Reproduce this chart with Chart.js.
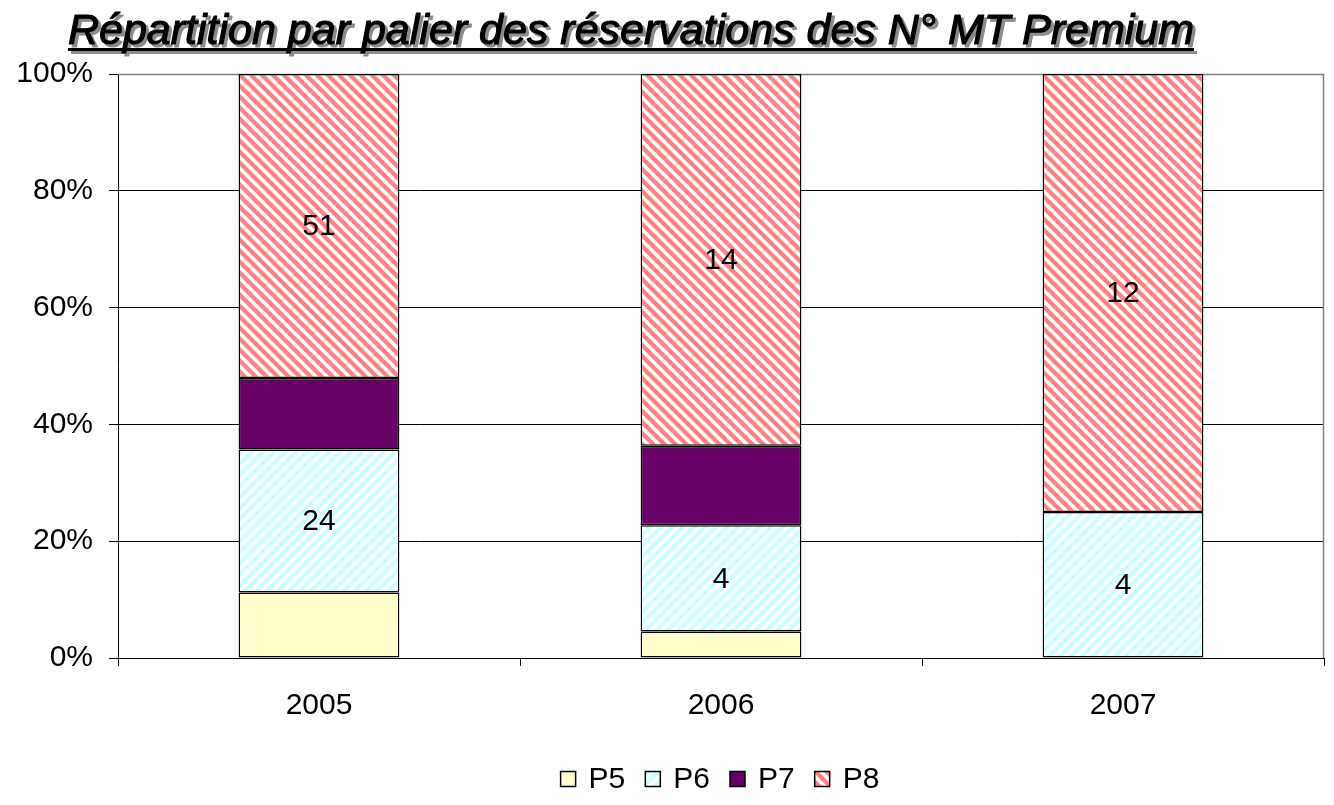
<!DOCTYPE html>
<html>
<head>
<meta charset="utf-8">
<script src="https://cdn.jsdelivr.net/npm/chart.js@4"></script>
<style>
  html, body { margin: 0; padding: 0; background: #fff; }
  #wrap { width: 1334px; height: 805px; position: relative; }
</style>
</head>
<body>
<div id="wrap"><canvas id="paliers"></canvas></div>
<script>
// données (nombre de réservations)
const years = ['2005', '2006', '2007'];
const p5 = [11, 1, 0];
const p6 = [24, 4, 4];
const p7 = [12, 3, 0];
const p8 = [51, 14, 12];
const seriesNames = ['P5', 'P6', 'P7', 'P8'];
const labelledSeries = ['P6', 'P8'];
const yTicks = [0, 20, 40, 60, 80, 100];
const titleText = 'Répartition par palier des réservations des N° MT Premium';

const FONT = '"Liberation Sans", Arial, sans-serif';

// motifs hachurés
function stripes(color, dir) {
    const s = 11;
    const c = document.createElement('canvas');
    c.width = s; c.height = s;
    const g = c.getContext('2d');
    g.fillStyle = '#fff';
    g.fillRect(0, 0, s, s);
    g.strokeStyle = color;
    g.lineWidth = 4.2;
    for (let k = -s; k <= s; k += s) {
        g.beginPath();
        if (dir === 'down') { g.moveTo(k - 2, -2); g.lineTo(k + s + 2, s + 2); }
        else { g.moveTo(k - 2, s + 2); g.lineTo(k + s + 2, -2); }
        g.stroke();
    }
    return g.createPattern(c, 'repeat');
}

const ctx0 = document.getElementById('paliers').getContext('2d');
const fills = ['#FFFFCC', stripes('#CCFFFF', 'up'), '#660066', stripes('#FF8080', 'down')];
const counts = [p5, p6, p7, p8];
const totals = years.map((_, i) => counts.reduce((s, arr) => s + arr[i], 0));
const pct = arr => arr.map((v, i) => v ? v / totals[i] * 100 : null);

const titlePlugin = {
    id: 'titreOmbre',
    afterDraw(chart) {
        const c = chart.ctx;
        c.save();
        c.font = 'italic 43px ' + FONT;
        c.textAlign = 'left';
        c.textBaseline = 'alphabetic';
        c.lineJoin = 'round';
        const w = c.measureText(titleText).width;
        const x0 = 631 - w / 2, base = 44;
        // ombre grise
        c.fillStyle = '#8c8c8c';
        c.strokeStyle = '#8c8c8c';
        c.lineWidth = 1.2;
        c.fillText(titleText, x0 + 3, base + 3);
        c.strokeText(titleText, x0 + 3, base + 3);
        c.fillRect(x0 + 3, base + 7, w, 3);
        c.fillStyle = '#000';
        c.strokeStyle = '#000';
        c.fillText(titleText, x0, base);
        c.strokeText(titleText, x0, base);
        c.fillRect(x0, base + 4, w, 3);
        c.restore();
    }
};

const framePlugin = {
    id: 'cadre',
    beforeDatasetsDraw(chart) {
        const a = chart.chartArea, c = chart.ctx;
        c.save();
        c.strokeStyle = '#808080';
        c.lineWidth = 1.5;
        c.beginPath();
        c.moveTo(a.left, a.top + 0.5);
        c.lineTo(a.right - 0.5, a.top + 0.5);
        c.lineTo(a.right - 0.5, a.bottom);
        c.stroke();
        c.restore();
    }
};

const valuesPlugin = {
    id: 'valeurs',
    afterDatasetsDraw(chart) {
        const c = chart.ctx;
        c.save();
        c.font = '30px ' + FONT;
        c.fillStyle = '#000';
        c.textAlign = 'center';
        c.textBaseline = 'middle';
        chart.data.datasets.forEach((ds, di) => {
            if (!labelledSeries.includes(ds.label)) return;
            chart.getDatasetMeta(di).data.forEach((bar, i) => {
                const v = counts[di][i];
                if (!v) return;
                const p = bar.getProps(['x', 'y', 'base'], true);
                c.fillText(String(v), p.x, (p.y + p.base) / 2 + 1);
            });
        });
        c.restore();
    }
};

const legendPlugin = {
    id: 'legende',
    afterDraw(chart) {
        const c = chart.ctx;
        c.save();
        c.font = '30px ' + FONT;
        c.textBaseline = 'middle';
        const box = 15, gap = 13, between = 20;
        const widths = seriesNames.map(n => box + gap + c.measureText(n).width);
        const total = widths.reduce((a, b) => a + b, 0) + between * (seriesNames.length - 1);
        let x = 720 - total / 2;
        const y = 779;
        seriesNames.forEach((n, i) => {
            c.fillStyle = fills[i];
            c.fillRect(x, y - box / 2, box, box);
            c.strokeStyle = '#000';
            c.lineWidth = 1.5;
            c.strokeRect(x, y - box / 2, box, box);
            c.fillStyle = '#000';
            c.fillText(n, x + box + gap, y + 1);
            x += widths[i] + between;
        });
        c.restore();
    }
};

new Chart(ctx0, {
    type: 'bar',
    data: {
        labels: years,
        datasets: seriesNames.map((n, i) => ({
            label: n,
            data: pct(counts[i]),
            backgroundColor: fills[i],
            borderColor: '#000',
            borderWidth: 1.5,
            borderSkipped: false,
            categoryPercentage: 1,
            barPercentage: 0.4
        }))
    },
    options: {
        responsive: true,
        maintainAspectRatio: false,
        animation: false,
        layout: { padding: { top: 74, right: 10, left: 0, bottom: 0 } },
        plugins: {
            legend: { display: false },
            title: { display: false },
            tooltip: { enabled: false }
        },
        scales: {
            x: {
                stacked: true,
                afterFit: s => { s.height = 147; },
                grid: { offset: true, drawOnChartArea: false, color: '#000', tickLength: 8 },
                border: { color: '#000', width: 1 },
                ticks: { color: '#000', font: { family: FONT, size: 30 }, padding: 22 }
            },
            y: {
                stacked: true,
                min: 0,
                max: 100,
                afterFit: s => { s.width = 118; },
                afterBuildTicks: s => { s.ticks = yTicks.map(v => ({ value: v })); },
                grid: { color: '#000', lineWidth: 1, tickLength: 9 },
                border: { color: '#000', width: 1 },
                ticks: {
                    color: '#000',
                    font: { family: FONT, size: 30 },
                    padding: 16,
                    callback: v => v + '%'
                }
            }
        }
    },
    plugins: [framePlugin, valuesPlugin, legendPlugin, titlePlugin]
});
</script>
</body>
</html>
